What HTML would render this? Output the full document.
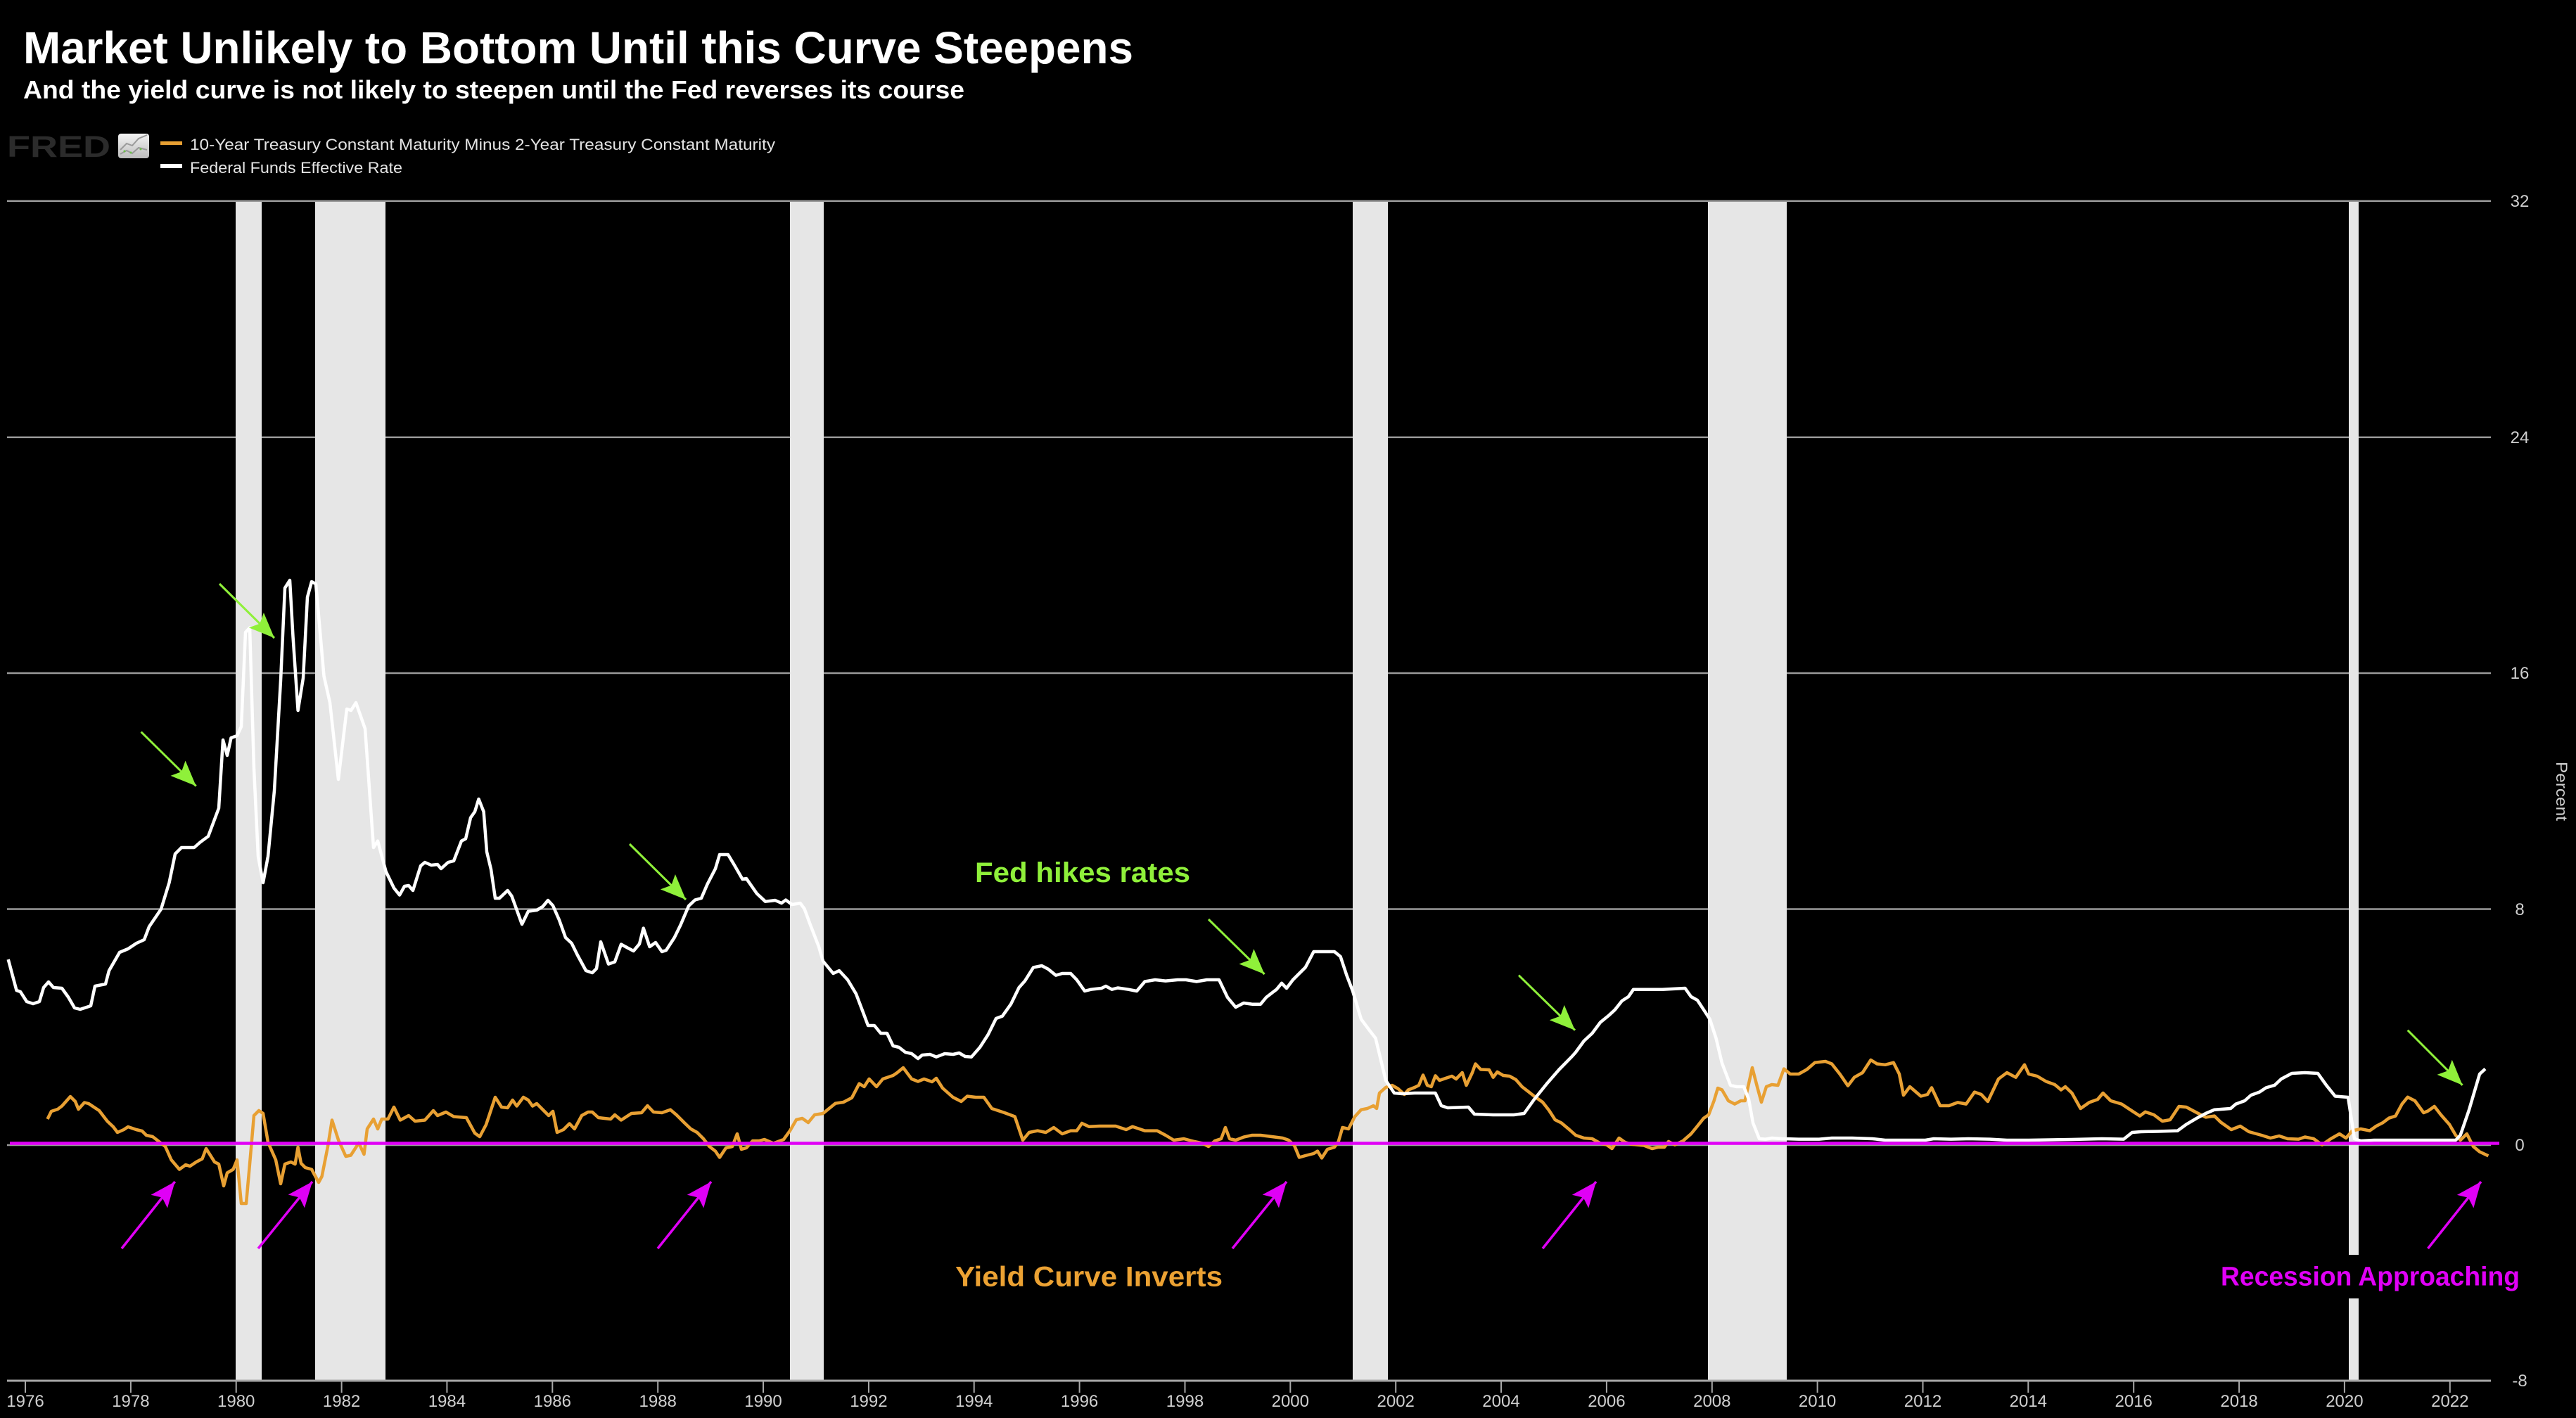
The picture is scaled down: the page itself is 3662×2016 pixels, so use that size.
<!DOCTYPE html>
<html><head><meta charset="utf-8"><style>
html,body{margin:0;padding:0;background:#000;}
svg{display:block;}
</style></head><body>
<svg xmlns="http://www.w3.org/2000/svg" width="3662" height="2016" viewBox="0 0 3662 2016">
<defs>
<marker id="hg" markerUnits="userSpaceOnUse" markerWidth="38" markerHeight="32" viewBox="0 -16 38 32" refX="36" refY="0" orient="auto">
<path d="M0,-15 L36,0 L0,15 L7,0 Z" fill="#8ff03a"/>
</marker>
<marker id="hm" markerUnits="userSpaceOnUse" markerWidth="38" markerHeight="32" viewBox="0 -16 38 32" refX="36" refY="0" orient="auto">
<path d="M0,-15 L36,0 L0,15 L7,0 Z" fill="#e000f6"/>
</marker>
<linearGradient id="ig" x1="0" y1="0" x2="0" y2="1"><stop offset="0" stop-color="#f4f4f4"/><stop offset="1" stop-color="#bdbdbd"/></linearGradient>
</defs>
<rect x="0" y="0" width="3662" height="2016" fill="#000"/>

<!-- Title -->
<text x="33" y="90" font-family="Liberation Sans, Arial, sans-serif" font-weight="bold" font-size="64" fill="#fff" textLength="1578" lengthAdjust="spacingAndGlyphs">Market Unlikely to Bottom Until this Curve Steepens</text>
<text x="33" y="140" font-family="Liberation Sans, Arial, sans-serif" font-weight="bold" font-size="36" fill="#fff" textLength="1338" lengthAdjust="spacingAndGlyphs">And the yield curve is not likely to steepen until the Fed reverses its course</text>

<!-- FRED logo -->
<text x="10" y="223" font-family="Liberation Sans, Arial, sans-serif" font-weight="900" font-size="43" fill="#2b2b2b" textLength="147" lengthAdjust="spacingAndGlyphs">FRED</text>
<rect x="168" y="190" width="44" height="35" rx="4" fill="url(#ig)"/>
<polyline points="171,213 180,204 188,207 197,197 209,192" fill="none" stroke="#9a9a9a" stroke-width="2"/>
<polyline points="171,219 180,214 188,218 197,210 209,213" fill="none" stroke="#9a9a9a" stroke-width="2"/>
<circle cx="177" cy="215" r="1.5" fill="#6cc04a"/><circle cx="186" cy="217" r="1.5" fill="#6cc04a"/><circle cx="200" cy="212" r="1.5" fill="#6cc04a"/>

<!-- Legend -->
<rect x="228" y="201" width="31" height="5" fill="#e8a033"/>
<text x="270" y="213" font-family="Liberation Sans, Arial, sans-serif" font-size="22" fill="#e4e4e4" textLength="832" lengthAdjust="spacingAndGlyphs">10-Year Treasury Constant Maturity Minus 2-Year Treasury Constant Maturity</text>
<rect x="228" y="233" width="31" height="6" fill="#ffffff"/>
<text x="270" y="246" font-family="Liberation Sans, Arial, sans-serif" font-size="22" fill="#e4e4e4" textLength="302" lengthAdjust="spacingAndGlyphs">Federal Funds Effective Rate</text>

<!-- Gridlines -->
<g stroke="#9a9a9a" stroke-width="2.5">
<line x1="10" y1="285.7" x2="3541" y2="285.7"/>
<line x1="10" y1="621.7" x2="3541" y2="621.7"/>
<line x1="10" y1="957" x2="3541" y2="957"/>
<line x1="10" y1="1292.5" x2="3541" y2="1292.5"/>
<line x1="10" y1="1628" x2="3541" y2="1628"/>
</g>

<!-- Recession bars -->
<g fill="#e6e6e6">
<rect x="335" y="287" width="37" height="1675"/>
<rect x="448" y="287" width="100" height="1675"/>
<rect x="1123" y="287" width="48" height="1675"/>
<rect x="1923" y="287" width="50" height="1675"/>
<rect x="2428" y="287" width="112" height="1675"/>
<rect x="3339" y="287" width="14" height="1675"/>
</g>

<!-- bottom axis -->
<line x1="10" y1="1963" x2="3541" y2="1963" stroke="#a8a8a8" stroke-width="3"/>
<g stroke="#a8a8a8" stroke-width="2">
<line x1="36" y1="1963" x2="36" y2="1980"/><line x1="185.9" y1="1963" x2="185.9" y2="1980"/><line x1="335.7" y1="1963" x2="335.7" y2="1980"/><line x1="485.6" y1="1963" x2="485.6" y2="1980"/><line x1="635.4" y1="1963" x2="635.4" y2="1980"/><line x1="785.3" y1="1963" x2="785.3" y2="1980"/><line x1="935.2" y1="1963" x2="935.2" y2="1980"/><line x1="1085" y1="1963" x2="1085" y2="1980"/><line x1="1234.9" y1="1963" x2="1234.9" y2="1980"/><line x1="1384.7" y1="1963" x2="1384.7" y2="1980"/><line x1="1534.6" y1="1963" x2="1534.6" y2="1980"/><line x1="1684.5" y1="1963" x2="1684.5" y2="1980"/><line x1="1834.3" y1="1963" x2="1834.3" y2="1980"/><line x1="1984.2" y1="1963" x2="1984.2" y2="1980"/><line x1="2134" y1="1963" x2="2134" y2="1980"/><line x1="2283.9" y1="1963" x2="2283.9" y2="1980"/><line x1="2433.8" y1="1963" x2="2433.8" y2="1980"/><line x1="2583.6" y1="1963" x2="2583.6" y2="1980"/><line x1="2733.5" y1="1963" x2="2733.5" y2="1980"/><line x1="2883.3" y1="1963" x2="2883.3" y2="1980"/><line x1="3033.2" y1="1963" x2="3033.2" y2="1980"/><line x1="3183.1" y1="1963" x2="3183.1" y2="1980"/><line x1="3332.9" y1="1963" x2="3332.9" y2="1980"/><line x1="3482.8" y1="1963" x2="3482.8" y2="1980"/>
</g>
<g font-family="Liberation Sans, Arial, sans-serif" font-size="24" fill="#cfcfcf" text-anchor="middle">
<text x="36" y="2000">1976</text><text x="185.9" y="2000">1978</text><text x="335.7" y="2000">1980</text><text x="485.6" y="2000">1982</text><text x="635.4" y="2000">1984</text><text x="785.3" y="2000">1986</text><text x="935.2" y="2000">1988</text><text x="1085" y="2000">1990</text><text x="1234.9" y="2000">1992</text><text x="1384.7" y="2000">1994</text><text x="1534.6" y="2000">1996</text><text x="1684.5" y="2000">1998</text><text x="1834.3" y="2000">2000</text><text x="1984.2" y="2000">2002</text><text x="2134" y="2000">2004</text><text x="2283.9" y="2000">2006</text><text x="2433.8" y="2000">2008</text><text x="2583.6" y="2000">2010</text><text x="2733.5" y="2000">2012</text><text x="2883.3" y="2000">2014</text><text x="3033.2" y="2000">2016</text><text x="3183.1" y="2000">2018</text><text x="3332.9" y="2000">2020</text><text x="3482.8" y="2000">2022</text>
</g>
<g font-family="Liberation Sans, Arial, sans-serif" font-size="24" fill="#cfcfcf" text-anchor="middle">
<text x="3582" y="294">32</text><text x="3582" y="630">24</text><text x="3582" y="965">16</text><text x="3582" y="1301">8</text><text x="3582" y="1636">0</text><text x="3582" y="1971">-8</text>
</g>
<text transform="translate(3634,1125) rotate(90)" text-anchor="middle" font-family="Liberation Sans, Arial, sans-serif" font-size="22" fill="#cfcfcf" textLength="84" lengthAdjust="spacingAndGlyphs">Percent</text>

<!-- Orange series -->
<polyline fill="none" stroke="#e8a033" stroke-width="4.5" stroke-linejoin="round" points="67.5,1591 73,1580 82,1577 88,1572.5 100,1559 107,1566 111.5,1577 120,1567.5 126,1569 141,1579 152.5,1594 161,1602 167,1610 176,1606 182,1602 193.6,1606 202,1608 208,1614 217,1616 235,1630 243.5,1649 255,1662.5 264,1656 270,1658 279,1652 287.5,1647.5 293,1633 305,1652 311,1655 318,1686 323,1667.5 331.5,1662.5 337,1649 343,1711 350,1711 355,1655 361,1586 368,1579 374,1583 381,1624 392,1649 399,1683 405,1655 413.6,1652 419.5,1655 423.6,1631 428,1654 434,1660 443,1662.5 453,1681 457.6,1672.5 466,1630 472,1592.5 481,1620.6 491.6,1644 498.7,1642.5 510,1625 517.5,1641 522,1605 531,1591 537,1605 542.7,1591 551.5,1591 560,1574 569,1592.5 581,1586 590,1594 604,1592.5 616,1579 622,1586 634,1581 645,1587.5 663,1589 675,1611 682,1616 691,1599 704,1560 713,1574 721.6,1575 728.7,1564 734.6,1572.5 744,1560 751,1564 757,1572.5 763,1569 774,1580 780,1586 786,1580 792,1610 801,1606 809.6,1597.5 816.7,1605 827,1586 836,1581 842,1581 850.7,1589 868,1591 874,1585 883,1592.5 897.6,1583 912,1582 920.5,1572 929,1581 941,1582 953,1577.7 961.6,1585 973,1596.4 982,1605 991,1610 1000,1619 1008.5,1630 1017,1636.6 1023,1645.5 1032,1632 1041,1630 1048,1612 1054,1634 1061,1632 1070,1622 1079,1622 1086.6,1620 1099.5,1625.5 1114,1620 1123,1607.6 1132,1592 1140.5,1590 1149,1596 1158,1585 1170,1583 1187.5,1568.7 1199,1567 1211,1560.7 1221.5,1540.6 1228.5,1545 1235.6,1534 1246,1545 1255,1534 1269.6,1529 1275.5,1525 1284,1518 1296,1534 1305,1537.5 1313.6,1534 1325,1538 1331,1533 1340,1547 1354.7,1560 1366.5,1566 1375,1558.5 1387,1560 1398.7,1560 1410,1576 1419,1579 1428,1582 1442.7,1587.5 1454,1621 1463,1610 1475,1607.6 1486.7,1610 1498,1603 1510,1612 1522,1607.6 1530.7,1607.6 1538,1597 1548,1601.7 1563,1601 1586,1601 1601,1606 1610,1601.7 1627.5,1607.6 1645,1607.6 1657,1614 1668.6,1621 1683,1619 1698,1623 1709.6,1625.5 1718,1630 1727,1622 1736,1619 1742,1603 1748,1619 1756.6,1621 1768,1616.6 1780,1614 1792,1614 1800,1615 1812,1616.5 1823.5,1618 1832,1621 1840,1628.5 1847,1645.5 1855.7,1643 1867.5,1640 1873,1636.6 1879,1646.4 1887,1634 1897,1631 1902.7,1623 1908.5,1603 1917,1605 1926,1587.5 1935,1577.7 1943.7,1576 1952.5,1572 1957,1576 1961,1554 1970,1546 1979,1543 1987.7,1548 1996.5,1556 2002,1549.5 2011,1546 2017,1543 2023,1528.5 2029,1543 2034.7,1545 2040.5,1529.4 2046.4,1536 2055,1533 2064,1530 2070,1534 2078.7,1525 2084.5,1543 2093,1525 2097.5,1512.5 2105,1520.5 2117,1521 2122.7,1531.7 2128.5,1524 2137,1529 2146,1530 2155,1535 2163.7,1545 2172.5,1551.8 2181,1558.5 2193,1567 2202,1578.5 2210.7,1592 2219.5,1596.4 2231,1606 2240,1614 2251.7,1618 2263.5,1619 2275,1625.5 2284,1627.6 2291.6,1633 2301.6,1618 2310,1624 2319,1626.8 2328,1627.6 2337,1628.5 2348.6,1633 2357,1631 2366,1631 2372,1623 2381,1627.6 2392.6,1622 2404,1612 2413,1601 2422,1589.7 2429,1585 2436.6,1565 2442,1547 2448,1549.5 2457,1565 2466,1569.6 2474.7,1565 2480.6,1565 2491,1518 2498,1545 2504,1567 2511,1545 2518.7,1542 2527.5,1543 2536,1519.6 2545,1527 2557,1527 2568.6,1520.5 2580,1510.7 2595,1509 2604,1512.5 2615.5,1527 2627,1543.7 2636,1531.7 2647.8,1525 2659.5,1507 2668.3,1512.5 2680,1513.8 2691.8,1510.7 2700,1527 2706,1557 2715,1545 2730.7,1558.5 2740,1556 2746,1546.4 2758,1572 2770.6,1572 2783,1567.4 2795,1569.6 2807,1552.6 2816.6,1556 2825.8,1566 2841,1534 2853,1525 2865.6,1531.7 2878,1513.8 2884,1527 2896,1530 2908.6,1537.5 2921,1542 2930,1549.5 2936,1545 2945.4,1554 2957.7,1576 2970,1567.4 2982,1563 2989.6,1554 3000.6,1565 3016,1569.6 3031,1579.5 3042,1586.6 3049.7,1580.8 3062,1585 3074,1594 3085,1592 3097.6,1573 3108,1574 3123,1582 3135.6,1588.4 3148,1586.6 3157,1595.5 3172,1606 3184.7,1601 3197,1609 3215,1614 3227.6,1618 3240,1615 3252,1619 3267.5,1619.6 3276.7,1616.5 3289,1619 3301,1627.6 3313.5,1619 3325.8,1612 3335,1618 3344,1607.6 3356,1605 3368.7,1607.6 3378,1601 3387,1596.4 3396,1589.7 3405.5,1586.6 3414.7,1569.6 3422.7,1559.8 3433,1565 3445.4,1582 3451.5,1579.5 3460.7,1573 3470,1585 3482,1598.6 3491,1614 3497.6,1621 3506.8,1612 3516,1630 3525,1637.5 3537.4,1643.3"/>

<!-- White series -->
<polyline fill="none" stroke="#ffffff" stroke-width="4.5" stroke-linejoin="round" points="11.7,1364 23.5,1408 29,1410 38,1424 47,1427 56,1424 62,1404 69,1396 76,1404 88,1405 97,1417.5 106,1433 114,1435 129,1430 135,1402 150,1399 155,1380 170,1354 182,1349 194,1341 205,1336 212,1317.5 229,1292.5 240.5,1255 249,1214 258,1205 276,1205 284.5,1197.5 296,1189 311,1149 317,1052 323,1074 328.5,1049 337,1046 343,1033 349,899 355,892.5 361,1092.5 367,1217.5 374,1255 381,1217.5 390,1124 399,967.5 405,836 412,825 416.5,905 423.6,1010 431,964 437,849 443,827 449,830 460.5,961 469,999 481,1108 493,1008 499,1010 506,999 519,1036 531,1205 537,1195.6 548.6,1239 560,1262.5 568,1272.5 575,1260 581,1259 587,1266 598,1231 604,1226 613,1230 622,1229 627,1235 637,1226 645,1224 656,1195.6 662,1192.5 669,1162.5 675,1154 680.5,1136 687.6,1154 692,1211 698,1236 704,1277 710,1277 721.6,1266 727.5,1274 742,1314 751,1295.6 763,1294 771.5,1289 779,1280 786,1287.5 795,1308 804,1333 812.6,1341 821,1358 833,1380 842,1383 848,1377 854,1339 865,1370.6 874,1367.5 883,1342.5 892,1347.5 900.6,1352 909,1342 914.7,1319.6 923.5,1346 932,1340 941,1353 947,1351 958.7,1333 967.5,1315 979,1288 988,1279.5 997,1277 1005.6,1257 1017,1235 1023,1215 1035,1215 1044,1230 1055.5,1250 1061,1249 1076,1270.5 1088,1281.7 1102,1280 1111,1284 1117,1279.5 1126,1286 1137.6,1284 1143.5,1292 1152,1315 1164,1346 1170,1366.5 1184.5,1384 1193,1380 1205,1393 1217,1413 1225.6,1435.7 1234,1458 1243,1458 1252,1469 1261,1469 1269.6,1487 1278,1489 1287,1496 1296,1498 1305,1505 1311,1500 1322,1499 1331,1502.7 1343,1498 1355,1499 1363.5,1497 1372,1502 1381,1502.7 1393,1489 1404.6,1471 1416,1448 1425,1444.6 1437,1427.7 1448.6,1404 1457,1394.6 1469,1375.4 1481,1373 1490,1377.7 1501,1386.6 1510,1384 1522,1384 1530.7,1393 1542,1409 1551,1406.7 1566,1405 1572,1402 1580.6,1406.7 1589,1404.5 1604,1406.7 1616,1409 1627.5,1395.5 1642,1393 1657,1394.6 1674,1393 1686,1393 1701,1395.5 1715.5,1393 1733,1393 1745,1418 1756.6,1432 1768,1426 1780,1427.7 1792,1427.7 1800,1418 1809,1411 1814.7,1406.7 1822,1397.8 1829,1405 1838,1393 1847,1384 1855.7,1375.4 1867.5,1353 1876,1353 1897,1353 1905.6,1360 1914.4,1386.6 1923,1409 1935,1449 1946.7,1464.7 1955.5,1476 1963,1507 1970,1536 1982,1554 1993.6,1555 2011,1554 2040.5,1554 2049,1572 2058,1575 2087.5,1574 2096,1584 2122.7,1585 2152,1585 2166.7,1583 2181,1563 2199,1540.6 2216.5,1520.5 2234,1502.7 2240,1496 2251.7,1480 2263.5,1469 2275,1453.5 2287,1443.7 2295.7,1435.7 2305.7,1423 2315,1417 2322,1406.7 2334,1406.7 2363,1406.7 2395.5,1405 2404,1417 2413,1422 2422,1435.7 2430.7,1449 2439.5,1476 2448,1511.6 2460,1543 2469,1545 2479,1545 2486,1563 2492,1596.4 2501,1619 2510,1619.6 2519,1618 2533,1619 2557,1619.6 2586,1619.6 2604,1618 2633,1618 2662,1619 2680,1621 2700,1621 2737,1621 2749,1619 2773.6,1619.6 2798,1619 2829,1619.6 2853,1621 2884,1621 2945,1620 2988,1619 3019,1619.6 3031,1610 3043.6,1609 3068,1608.5 3095.7,1607.6 3108,1598.6 3123,1589.7 3135.6,1583 3148,1577.7 3171,1576 3178.5,1569.6 3191,1565 3200,1557 3212,1552.6 3221.5,1546.4 3233.7,1542.8 3243,1534 3258,1526 3276.7,1525 3295,1526 3307,1542.8 3319.6,1558.5 3338,1560 3347,1619 3356,1622 3375,1621 3436,1621 3491,1621 3497.6,1614 3509.8,1578.5 3525,1527 3533,1519.6"/>

<!-- Magenta zero line -->
<line x1="14" y1="1625.5" x2="3553" y2="1625.5" stroke="#e000f6" stroke-width="4.5"/>

<!-- Green arrows -->
<g stroke="#8ff03a" stroke-width="3" marker-end="url(#hg)">
<line x1="200.6" y1="1040.6" x2="278.7" y2="1117.5"/>
<line x1="312" y1="830" x2="390" y2="907"/>
<line x1="895" y1="1200" x2="975" y2="1279"/>
<line x1="1718" y1="1307" x2="1797.6" y2="1385"/>
<line x1="2159" y1="1386.6" x2="2239" y2="1464.7"/>
<line x1="3422.7" y1="1464.7" x2="3500.6" y2="1542.8"/>
</g>

<!-- Magenta arrows -->
<g stroke="#e000f6" stroke-width="3.5" marker-end="url(#hm)">
<line x1="173" y1="1775" x2="248.7" y2="1680"/>
<line x1="367" y1="1775" x2="444" y2="1680"/>
<line x1="935" y1="1775" x2="1011" y2="1680"/>
<line x1="1752" y1="1775" x2="1829" y2="1680"/>
<line x1="2193" y1="1775" x2="2269" y2="1680"/>
<line x1="3451.5" y1="1775" x2="3527" y2="1680"/>
</g>

<!-- Annotations -->
<text x="1386" y="1254" font-family="Liberation Sans, Arial, sans-serif" font-weight="bold" font-size="40" fill="#8ff03a" textLength="306" lengthAdjust="spacingAndGlyphs">Fed hikes rates</text>
<text x="1358" y="1828.5" font-family="Liberation Sans, Arial, sans-serif" font-weight="bold" font-size="40" fill="#eca233" textLength="380" lengthAdjust="spacingAndGlyphs">Yield Curve Inverts</text>
<rect x="3150" y="1784" width="440" height="62" fill="#000"/>
<text x="3157" y="1827.6" font-family="Liberation Sans, Arial, sans-serif" font-weight="bold" font-size="38" fill="#e000f6" textLength="425" lengthAdjust="spacingAndGlyphs">Recession Approaching</text>
</svg>
</body></html>
